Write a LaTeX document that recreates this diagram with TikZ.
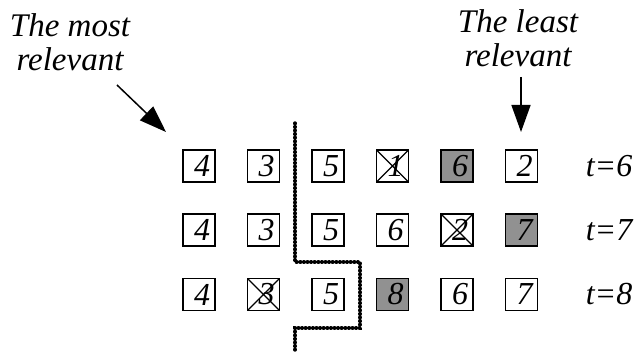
\documentclass[tikz,border=0pt]{standalone}
\usepackage{fontspec}
\setmainfont{Liberation Serif}
\newfontfamily\serifit{Liberation Serif Italic}
\usetikzlibrary{arrows.meta}
\definecolor{hotgray}{RGB}{145,145,145}
\begin{document}
\begin{tikzpicture}[x=1pt,y=-1pt,
  cell/.style={draw, line width=1.4pt, minimum size=32pt, inner sep=0pt,
               font=\serifit\fontsize{32}{36}\selectfont},
  hot/.style={cell, fill=hotgray},
  gone/.style={cell, path picture={
      \draw[line width=1.2pt]
        (path picture bounding box.north west) -- (path picture bounding box.south east)
        (path picture bounding box.north east) -- (path picture bounding box.south west);}},
  note/.style={font=\serifit\fontsize{33}{34}\selectfont, align=center, inner sep=0pt},
  steplabel/.style={font=\serifit\fontsize{32}{36}\selectfont, inner sep=0pt},
  pointer/.style={line width=1.5pt, -{Triangle[length=27pt,width=19pt]}},
  cutline/.style={line width=3.4pt, line cap=round, dash pattern=on 0.6pt off 3pt}
]
\useasboundingbox (0,0) rectangle (638,355);

% row t=6
\node[cell] (a1) at (199,166)   {\hspace*{6pt}4};
\node[cell] (a2) at (263.5,166) {\hspace*{6pt}3};
\node[cell] (a3) at (328,166)   {\hspace*{6pt}5};
\node[gone] (a4) at (392.5,166) {\hspace*{6pt}1};
\node[hot]  (a5) at (457,166)   {\hspace*{6pt}6};
\node[cell] (a6) at (521.5,166) {\hspace*{6pt}2};
\node[steplabel] (ta) at (609,166) {t=6};

% row t=7
\node[cell] (b1) at (199,230)   {\hspace*{6pt}4};
\node[cell] (b2) at (263.5,230) {\hspace*{6pt}3};
\node[cell] (b3) at (328,230)   {\hspace*{6pt}5};
\node[cell] (b4) at (392.5,230) {\hspace*{6pt}6};
\node[gone] (b5) at (457,230)   {\hspace*{6pt}2};
\node[hot]  (b6) at (521.5,230) {\hspace*{6pt}7};
\node[steplabel] (tb) at (609,230) {t=7};

% row t=8
\node[cell] (c1) at (199,294.5)   {\hspace*{6pt}4};
\node[gone] (c2) at (263.5,294.5) {\hspace*{6pt}3};
\node[cell] (c3) at (328,294.5)   {\hspace*{6pt}5};
\node[hot]  (c4) at (392.5,294.5) {\hspace*{6pt}8};
\node[cell] (c5) at (457,294.5)   {\hspace*{6pt}6};
\node[cell] (c6) at (521.5,294.5) {\hspace*{6pt}7};
\node[steplabel] (tc) at (609,294.5) {t=8};

% annotations
\node[note] (most)  at (70,42)  {The most\\relevant};
\node[note] (least) at (518,38) {The least\\relevant};

\coordinate (mostfrom) at (117,85);
\coordinate (mostto)   at (166,132);
\coordinate (leastfrom) at (521,77);
\coordinate (leastto)   at (521,132);
\draw[pointer] (mostfrom) -- (mostto);
\draw[pointer] (leastfrom) -- (leastto);

% dotted cut between kept and dropped entries
\draw[cutline] (295,123) -- (295,262) -- (360,262) -- (360,328) -- (295,328) -- (295,352);
\end{tikzpicture}
\end{document}
